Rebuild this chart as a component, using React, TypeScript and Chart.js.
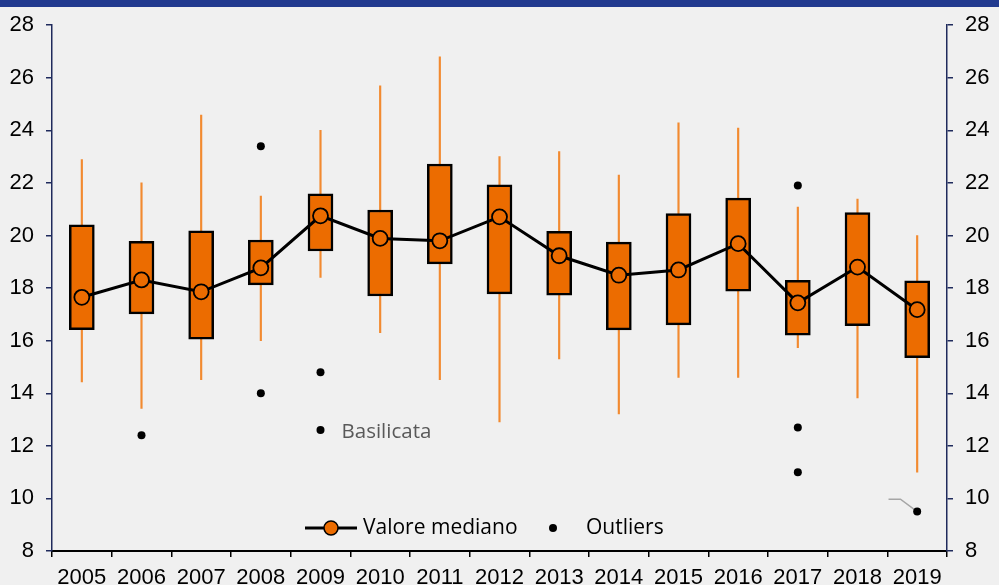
import React, { useEffect, useRef } from "react";
import { Chart, registerables } from "chart.js";

Chart.register(...registerables);

const years = ["2005", "2006", "2007", "2008", "2009", "2010", "2011", "2012", "2013", "2014", "2015", "2016", "2017", "2018", "2019"];
const whiskerLow = [14.43, 13.42, 14.52, 16.0, 18.41, 16.3, 14.52, 12.91, 15.31, 13.21, 14.6, 14.6, 15.73, 13.82, 11.0];
const whiskerHigh = [22.89, 22.0, 24.58, 21.5, 24.0, 25.69, 26.8, 23.0, 23.19, 22.3, 24.29, 24.09, 21.08, 21.39, 20.0];
const q1 = [16.42, 17.02, 16.06, 18.12, 19.41, 17.7, 18.92, 17.78, 17.73, 16.41, 16.6, 17.88, 16.21, 16.57, 15.35];
const q3 = [20.41, 19.78, 20.18, 19.83, 21.59, 20.97, 22.72, 21.93, 20.16, 19.75, 20.83, 21.42, 18.3, 20.87, 18.28];
const medians = [17.65, 18.31, 17.86, 18.77, 20.75, 19.89, 19.8, 20.71, 19.23, 18.49, 18.69, 19.69, 17.44, 18.8, 17.18];
const outlierYears = ["2006", "2008", "2008", "2009", "2009", "2017", "2017", "2017", "2019"];
const outlierValues = [12.4, 23.4, 14.0, 14.8, 12.6, 21.9, 12.7, 11.0, 9.5];
const outlierLabels = ["", "", "", "", "Basilicata", "", "", "", ""];
const leaderX = [13.52, 13.72, 14];
const leaderY = [9.97, 9.97, 9.5];
const yTicksMin = 8;
const yTicksMax = 28;
const yStep = 2;

const ORANGE = "#EC6C00";
const WHISKER = "#F28A30";
const NAVY = "#1F2A5C";
const AXIS_FONT = { family: "'Liberation Sans', Arial, sans-serif", size: 22 };

const labelPlugin = {
  id: "outlierLabels",
  afterDatasetsDraw(chart: any) {
    const ctx = chart.ctx;
    const meta = chart.getDatasetMeta(3);
    ctx.save();
    ctx.fillStyle = "#595959";
    ctx.font = "20.5px 'Open Sans', sans-serif";
    ctx.textAlign = "left";
    ctx.textBaseline = "middle";
    meta.data.forEach((pt: any, i: number) => {
      if (outlierLabels[i]) ctx.fillText(outlierLabels[i], pt.x + 21, pt.y + 2);
    });
    ctx.restore();
  },
};

const legendPlugin = {
  id: "innerLegend",
  afterDraw(chart: any) {
    const ctx = chart.ctx;
    const area = chart.chartArea;
    const y = area.bottom - 23;
    const x0 = area.left + 253;
    ctx.save();
    ctx.strokeStyle = "#000";
    ctx.lineWidth = 3;
    ctx.beginPath();
    ctx.moveTo(x0, y);
    ctx.lineTo(x0 + 52, y);
    ctx.stroke();
    ctx.beginPath();
    ctx.arc(x0 + 26, y, 7, 0, Math.PI * 2);
    ctx.fillStyle = ORANGE;
    ctx.fill();
    ctx.lineWidth = 1.5;
    ctx.stroke();
    ctx.fillStyle = "#000";
    ctx.font = "21px 'Open Sans', sans-serif";
    ctx.textAlign = "left";
    ctx.textBaseline = "middle";
    ctx.fillText("Valore mediano", x0 + 58, y);
    ctx.beginPath();
    ctx.arc(x0 + 248, y, 4, 0, Math.PI * 2);
    ctx.fill();
    ctx.fillText("Outliers", x0 + 281, y);
    ctx.restore();
  },
};

export default function App() {
  const ref = useRef<HTMLCanvasElement>(null);
  useEffect(() => {
    if (!ref.current) return;
    const yAxisCommon = (position: string, width: number) => ({
      type: "linear",
      position,
      min: yTicksMin,
      max: yTicksMax,
      ticks: { stepSize: yStep, font: AXIS_FONT, color: "#000", padding: 12 },
      grid: { drawOnChartArea: false, drawTicks: true, tickLength: 6, color: NAVY, lineWidth: 1.5 },
      border: { display: true, color: NAVY, width: 1.5 },
      afterFit: (s: any) => {
        s.width = width;
      },
    });
    const chart = new Chart(ref.current, {
      type: "bar",
      data: {
        labels: years,
        datasets: [
          {
            type: "bar",
            label: "whiskers",
            data: years.map((_, i) => [whiskerLow[i], whiskerHigh[i]]),
            backgroundColor: WHISKER,
            borderWidth: 0,
            barThickness: 1.5,
            grouped: false,
            order: 4,
          } as any,
          {
            type: "bar",
            label: "box",
            data: years.map((_, i) => [q1[i], q3[i]]),
            backgroundColor: ORANGE,
            borderColor: "#000",
            borderWidth: 2.5,
            borderSkipped: false,
            barThickness: 25,
            grouped: false,
            order: 3,
          } as any,
          {
            type: "line",
            label: "Valore mediano",
            data: medians,
            borderColor: "#000",
            borderWidth: 3,
            pointRadius: 7.5,
            pointBackgroundColor: ORANGE,
            pointBorderColor: "#000",
            pointBorderWidth: 1.8,
            order: 2,
          } as any,
          {
            type: "line",
            label: "Outliers",
            data: outlierYears.map((y, i) => ({ x: y, y: outlierValues[i] })),
            showLine: false,
            pointRadius: 4,
            pointBackgroundColor: "#000",
            pointBorderWidth: 0,
            borderWidth: 0,
            order: 0,
          } as any,
          {
            type: "line",
            label: "leader",
            xAxisID: "x2",
            data: leaderX.map((x, i) => ({ x, y: leaderY[i] })),
            borderColor: "#A6A6A6",
            borderWidth: 1.5,
            pointRadius: 0,
            order: 1,
          } as any,
        ],
      },
      options: {
        responsive: false,
        animation: false,
        devicePixelRatio: 1,
        layout: { padding: { top: 24, left: 0, right: 0, bottom: 0 } },
        plugins: { legend: { display: false }, tooltip: { enabled: false } },
        scales: {
          x: {
            type: "category",
            offset: true,
            grid: { offset: true, drawOnChartArea: false, drawTicks: true, tickLength: 6, color: "#000", lineWidth: 1.5 },
            border: { display: true, color: "#000", width: 2 },
            ticks: { font: AXIS_FONT, color: "#000", padding: 8, maxRotation: 0, autoSkip: false },
            afterFit: (s: any) => {
              s.height = 34;
            },
          },
          x2: { type: "linear", display: false, offset: false, min: -0.5, max: 14.5, grid: { offset: false } },
          y: yAxisCommon("left", 52),
          y2: yAxisCommon("right", 52),
        } as any,
      },
      plugins: [labelPlugin, legendPlugin],
    } as any);
    return () => chart.destroy();
  }, []);
  return (
    <div style={{ position: "fixed", left: 0, top: 0, width: 999, height: 585, background: "#F0F0F0", overflow: "hidden" }}>
      <canvas ref={ref} width={999} height={585} style={{ position: "absolute", left: 0, top: 0 }} />
      <div style={{ position: "absolute", left: 0, top: 0, width: 999, height: 7, background: "#213A8F" }} />
    </div>
  );
}
